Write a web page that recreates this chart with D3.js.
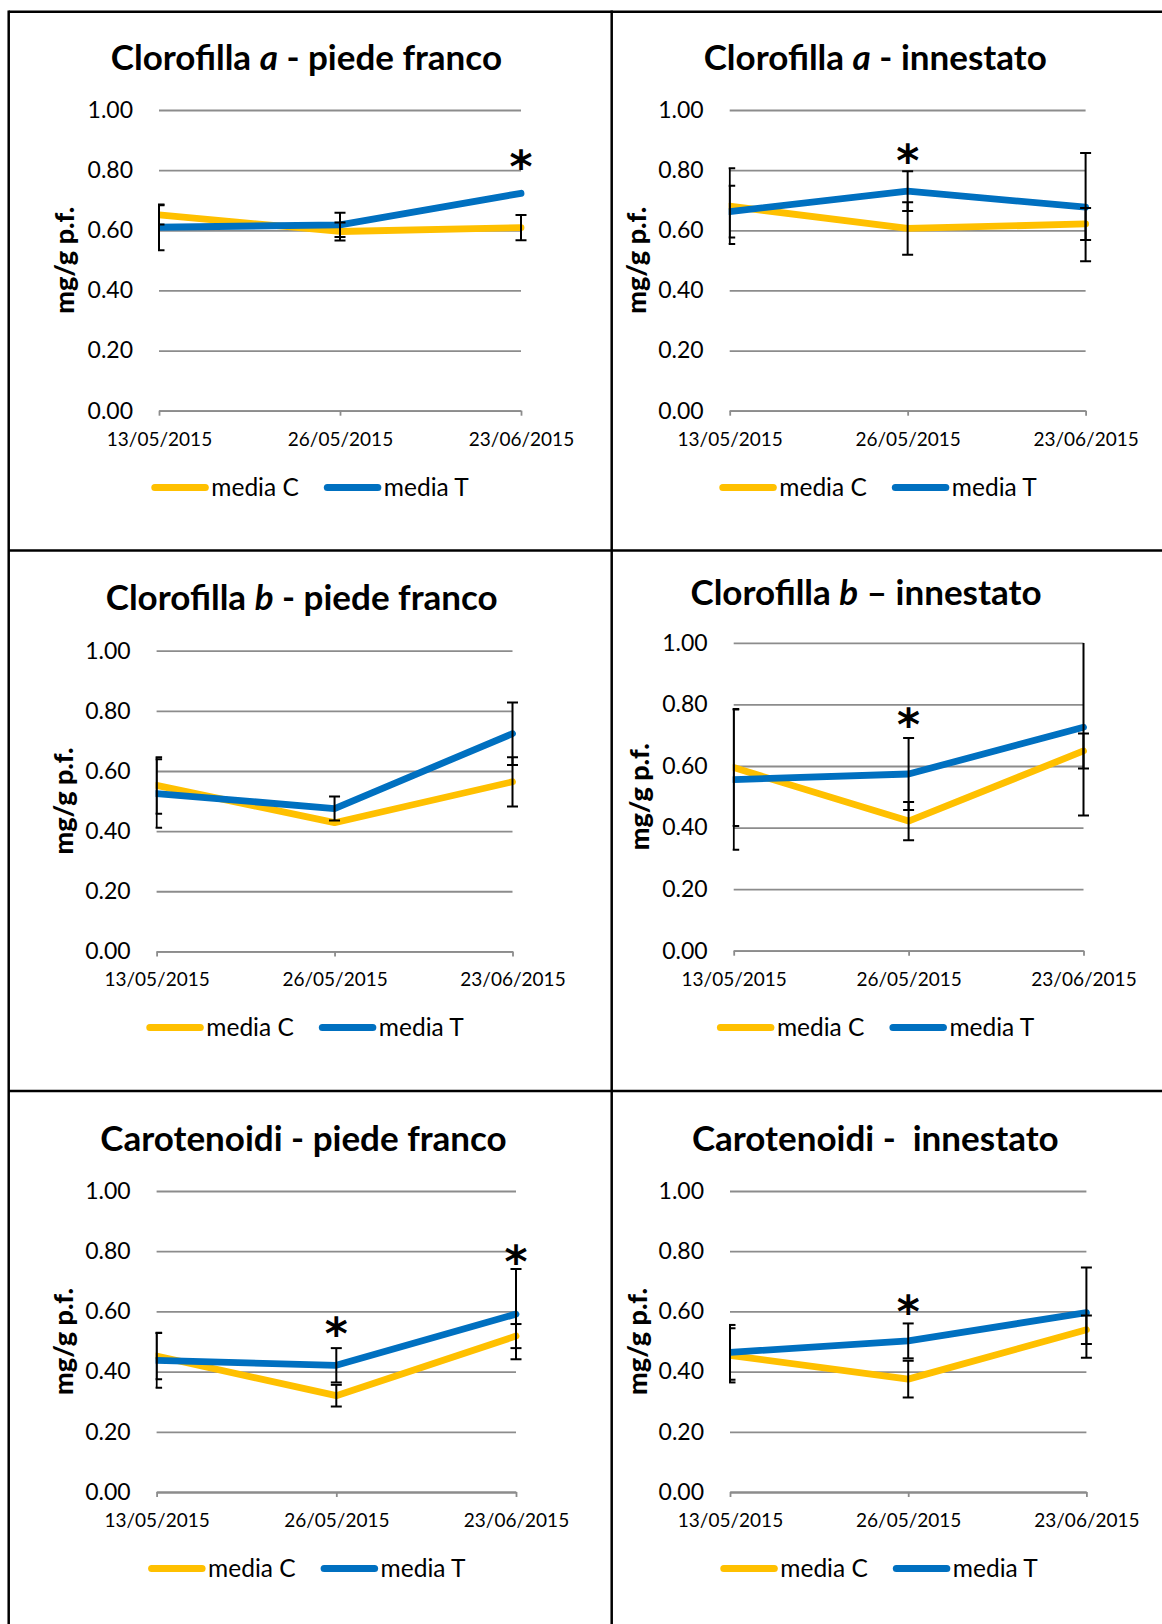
<!DOCTYPE html>
<html>
<head>
<meta charset="utf-8">
<script src="https://cdn.jsdelivr.net/npm/d3@7"></script>
<style>
  body { margin: 0; background: #fff; }
  svg { display: block; }
  text { font-family: Lato, "Open Sans", sans-serif; }
</style>
</head>
<body>
<svg id="chart" width="1162" height="1624"></svg>
<script>
// categories and ticks
const dates = ["13/05/2015", "26/05/2015", "23/06/2015"];
const yTicks = [0, 0.2, 0.4, 0.6, 0.8, 1.0];
const seriesNames = ["media C", "media T"];
const seriesColors = ["#FFC000", "#0070C0"];

// titles: [plain, italic, plain]
const titles = [
  ["Clorofilla ", "a", " - piede franco"],
  ["Clorofilla ", "a", " - innestato"],
  ["Clorofilla ", "b", " - piede franco"],
  ["Clorofilla ", "b", " \u2013 innestato"],
  ["Carotenoidi - piede franco", "", ""],
  ["Carotenoidi -  innestato", "", ""]
];

// Clorofilla a - piede franco
const clorAPfC = [0.651, 0.596, 0.609];
const clorAPfT = [0.610, 0.618, 0.723];
const clorAPfErrC = [0.032, 0.030, 0.042];
const clorAPfErrT = [0.076, 0.040, 0];
const clorAPfStars = [[2, 0.834]];

// Clorofilla a - innestato
const clorAInC = [0.680, 0.606, 0.621];
const clorAInT = [0.662, 0.730, 0.677];
const clorAInErrC = [0.126, 0.087, 0.053];
const clorAInErrT = [0.086, 0.066, 0.180];
const clorAInStars = [[1, 0.853]];

// Clorofilla b - piede franco
const clorBPfC = [0.552, 0.428, 0.564];
const clorBPfT = [0.525, 0.475, 0.724];
const clorBPfErrC = [0.094, 0, 0.082];
const clorBPfErrT = [0.114, 0.040, 0.104];
const clorBPfStars = [];

// Clorofilla b - innestato
const clorBInC = [0.595, 0.421, 0.649];
const clorBInT = [0.556, 0.574, 0.726];
const clorBInErrC = [0.190, 0.062, 0.057];
const clorBInErrT = [0.228, 0.117, 0.287];
const clorBInStars = [[1, 0.755]];

// Carotenoidi - piede franco
const carPfC = [0.452, 0.320, 0.518];
const carPfT = [0.437, 0.421, 0.591];
const carPfErrC = [0.077, 0.036, 0.040];
const carPfErrT = [0.091, 0.057, 0.150];
const carPfStars = [[1, 0.548], [2, 0.789]];

// Carotenoidi - innestato
const carInC = [0.454, 0.375, 0.539];
const carInT = [0.464, 0.502, 0.596];
const carInErrC = [0.090, 0.061, 0.047];
const carInErrT = [0.091, 0.058, 0.150];
const carInStars = [[1, 0.620]];

// where each chart sits on the page
const layout = [
  {x0: 159, x1: 521, yTop: 110, yBot: 410.7, tx: 306.4, ty: 70.4, ax: 65, lx: 310, ly: 487.5},
  {x0: 729.7, x1: 1085.6, yTop: 110, yBot: 410.7, tx: 875.3, ty: 70.4, ax: 637, lx: 878, ly: 487.5},
  {x0: 156.6, x1: 512.5, yTop: 650.7, yBot: 951.4, tx: 301.7, ty: 610.4, ax: 64, lx: 305, ly: 1027.5},
  {x0: 733.7, x1: 1083.5, yTop: 642.9, yBot: 950.7, tx: 866, ty: 605.4, ax: 640, lx: 875.6, ly: 1027.5},
  {x0: 156.6, x1: 516, yTop: 1191, yBot: 1492, tx: 303.5, ty: 1151, ax: 64, lx: 306.8, ly: 1568.5},
  {x0: 730, x1: 1086.4, yTop: 1191, yBot: 1492, tx: 875.3, ty: 1151, ax: 638, lx: 879, ly: 1568.5}
];

const panels = [
  {title: titles[0], vals: [clorAPfC, clorAPfT], errs: [clorAPfErrC, clorAPfErrT], stars: clorAPfStars},
  {title: titles[1], vals: [clorAInC, clorAInT], errs: [clorAInErrC, clorAInErrT], stars: clorAInStars},
  {title: titles[2], vals: [clorBPfC, clorBPfT], errs: [clorBPfErrC, clorBPfErrT], stars: clorBPfStars},
  {title: titles[3], vals: [clorBInC, clorBInT], errs: [clorBInErrC, clorBInErrT], stars: clorBInStars},
  {title: titles[4], vals: [carPfC, carPfT], errs: [carPfErrC, carPfErrT], stars: carPfStars},
  {title: titles[5], vals: [carInC, carInT], errs: [carInErrC, carInErrT], stars: carInStars}
];

const svg = d3.select("#chart");
const defs = svg.append("defs");

// table borders
const border = svg.append("g").attr("stroke", "#000").attr("stroke-width", 2.5);
border.append("line").attr("x1", 8.7).attr("x2", 1162).attr("y1", 11.8).attr("y2", 11.8);
border.append("line").attr("x1", 8.7).attr("x2", 1162).attr("y1", 550.5).attr("y2", 550.5);
border.append("line").attr("x1", 8.7).attr("x2", 1162).attr("y1", 1091).attr("y2", 1091);
border.append("line").attr("x1", 8.7).attr("x2", 8.7).attr("y1", 10.5).attr("y2", 1624);
border.append("line").attr("x1", 611.7).attr("x2", 611.7).attr("y1", 10.5).attr("y2", 1624);

panels.forEach((p, pi) => {
  const L = layout[pi];
  const g = svg.append("g");

  const x = d3.scalePoint().domain(dates).range([L.x0, L.x1]).padding(0);
  const y = d3.scaleLinear().domain([0, 1]).range([L.yBot, L.yTop]);

  // title
  const title = g.append("text")
    .attr("x", L.tx).attr("y", L.ty)
    .attr("text-anchor", "middle")
    .style("white-space", "pre")
    .style("font-weight", "bold")
    .style("font-size", "35px");
  title.append("tspan").text(p.title[0]);
  if (p.title[1]) {
    title.append("tspan").style("font-style", "italic").text(p.title[1]);
    title.append("tspan").text(p.title[2]);
  }

  // y axis + gridlines
  const yAxis = g.append("g")
    .attr("transform", `translate(${L.x0},0)`)
    .call(d3.axisLeft(y).tickValues(yTicks).tickFormat(d3.format(".2f"))
      .tickSize(-(L.x1 - L.x0)).tickPadding(26));
  yAxis.select(".domain").remove();
  yAxis.selectAll(".tick line").attr("stroke", "#8c8c8c").attr("stroke-width", 1.8);
  yAxis.selectAll(".tick text").style("font-size", "23px").attr("fill", "#000")
    .style("font-family", "Lato, sans-serif");

  // x axis
  const xAxis = g.append("g")
    .attr("transform", `translate(0,${L.yBot})`)
    .call(d3.axisBottom(x).tickSize(5).tickSizeOuter(0).tickPadding(16.5));
  xAxis.select(".domain").attr("stroke", "#8c8c8c").attr("stroke-width", 1.8);
  xAxis.selectAll(".tick line").attr("stroke", "#8c8c8c").attr("stroke-width", 1.8);
  xAxis.selectAll(".tick text").style("font-size", "19px").attr("fill", "#000")
    .style("font-family", "Lato, sans-serif");

  // y axis title
  g.append("text")
    .attr("transform", `translate(${L.ax},${(L.yTop + L.yBot) / 2}) rotate(-90)`)
    .attr("text-anchor", "middle")
    .attr("dy", "0.35em")
    .style("font-weight", "900")
    .style("font-size", "27px")
    .text("mg/g p.f.");

  // clip to plot area
  const clipId = "clip" + pi;
  defs.append("clipPath").attr("id", clipId)
    .append("rect")
    .attr("x", L.x0 - 1).attr("y", L.yTop)
    .attr("width", L.x1 - L.x0 + 14).attr("height", L.yBot - L.yTop + 2);
  const plot = g.append("g").attr("clip-path", `url(#${clipId})`);

  const line = d3.line().x((d, i) => x(dates[i])).y(d => y(d));

  p.vals.forEach((vals, si) => {
    plot.append("path")
      .datum(vals)
      .attr("d", line)
      .attr("fill", "none")
      .attr("stroke", seriesColors[si])
      .attr("stroke-width", 6.8)
      .attr("stroke-linejoin", "round")
      .attr("stroke-linecap", "round");
  });

  // error bars (skip zero ones)
  p.vals.forEach((vals, si) => {
    vals.forEach((v, i) => {
      const e = p.errs[si][i];
      if (!e) return;
      const cx = x(dates[i]);
      const eb = plot.append("g").attr("stroke", "#000").attr("stroke-width", 2);
      eb.append("line").attr("x1", cx).attr("x2", cx).attr("y1", y(v - e)).attr("y2", y(v + e));
      [v - e, v + e].forEach(t => {
        eb.append("line").attr("x1", cx - 5.5).attr("x2", cx + 5.5).attr("y1", y(t)).attr("y2", y(t));
      });
    });
  });

  // significance stars
  p.stars.forEach(s => {
    g.append("text")
      .attr("x", x(dates[s[0]]))
      .attr("y", y(s[1]))
      .attr("dy", "0.5em")
      .attr("text-anchor", "middle")
      .style("font-family", "'DejaVu Sans', sans-serif")
      .style("font-weight", "bold")
      .style("font-size", "44px")
      .text("*");
  });

  // legend
  const leg = g.append("g");
  let cur = 0;
  seriesNames.forEach((name, si) => {
    leg.append("line")
      .attr("x1", cur + 3.5).attr("x2", cur + 54).attr("y1", 0).attr("y2", 0)
      .attr("stroke", seriesColors[si]).attr("stroke-width", 7)
      .attr("stroke-linecap", "round");
    cur += 60;
    const t = leg.append("text")
      .attr("x", cur).attr("y", 0).attr("dy", "0.35em")
      .style("font-size", "24.5px")
      .text(name);
    cur += t.node().getComputedTextLength();
    if (si < seriesNames.length - 1) cur += 25;
  });
  leg.attr("transform", `translate(${L.lx - cur / 2},${L.ly})`);
});
</script>
</body>
</html>
